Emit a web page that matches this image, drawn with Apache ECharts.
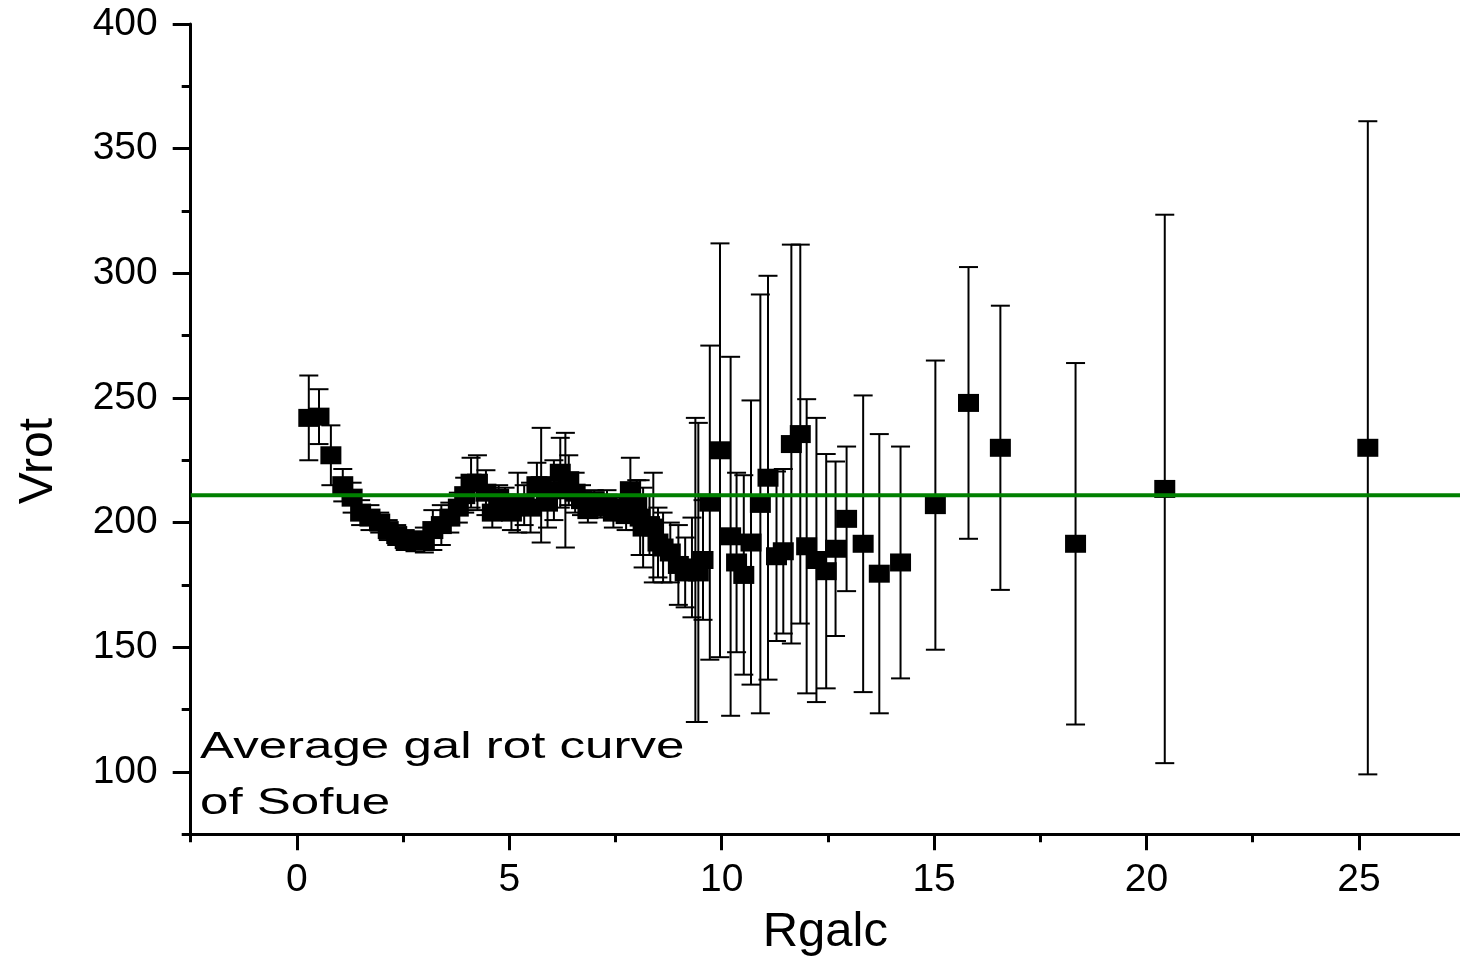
<!DOCTYPE html>
<html><head><meta charset="utf-8">
<script src="https://cdn.jsdelivr.net/npm/echarts@6/dist/echarts.min.js"></script>
<style>html,body{margin:0;padding:0;background:#fff}#c{width:1460px;height:965px}</style>
</head><body><div id="c"></div>
<script>
const rgalc = [0.28,0.52,0.80,1.08,1.30,1.50,1.72,1.95,2.15,2.35,2.55,2.78,3.00,3.20,3.40,3.60,3.80,3.95,4.10,4.25,
  4.45,4.60,4.75,4.90,5.05,5.20,5.35,5.50,5.65,5.75,5.90,6.05,6.20,6.32,6.40,6.55,6.70,6.85,7.00,7.15,
  7.30,7.45,7.60,7.75,7.85,8.00,8.08,8.15,8.30,8.39,8.50,8.62,8.79,8.98,9.14,9.30,9.38,9.45,9.56,9.72,
  9.96,10.21,10.35,10.52,10.69,10.91,11.09,11.29,11.45,11.64,11.85,12.00,12.23,12.46,12.68,12.94,13.33,13.71,14.21,
  15.03,15.81,16.56,18.33,20.43,25.21];
const vrot = [242,242.5,227,215,210,204,202,200,197,195,193,192.5,193,197,199,202,206,211,216,216,
  212,204,210,208,204,208,207,206,215,215,208,213,220,213,217,212,209,205,209,206,
  208,204,206,203,213,207,202,198,199,198,192,190,188,183,180,182,181,180,185,208,
  229,194.5,184,179,192,207.5,218,186.5,188.5,231.5,235.5,190.5,185,180.5,189.5,201.5,191.5,179.5,184,
  207,248,230,191.5,213.5,230];
const verr = [17,11,12,6.5,6,5,5,4,4,4,4,4,5,8,8,6,6,7,10,11,
  9,6,5,6,7,12,8,10,9,23,10,12,14,23,10,8,6,5,4,4,
  5,6,5,6,13,10,15,16,12,22,14,14,12,16,14,20,61,60,24,63,
  83,72,36,40,57,84,81,34,33,80,76,59,57,47,35,29,59.5,56,46.5,
  58,54.5,57,72.5,110,131];
const meanV = 211;
const xMajor = [0,5,10,15,20,25];
const xMinor = [-2.5,2.5,7.5,12.5,17.5,22.5];
const yMajor = [100,150,200,250,300,350,400];
const yMinor = [75,125,175,225,275,325,375];

const pts = rgalc.map((x,i)=>[x, vrot[i]]);
const errs = rgalc.map((x,i)=>[x, vrot[i]-verr[i], vrot[i]+verr[i]]);
const FONT = '"Liberation Sans", Arial, sans-serif';
const chart = echarts.init(document.getElementById('c'), null, {renderer:'canvas'});
const axLine = {show:true, onZero:false, lineStyle:{color:'#000', width:3}};
chart.setOption({
  animation:false,
  backgroundColor:'#fff',
  grid:{left:190.7, right:0, top:24, bottom:130.8, containLabel:false},
  xAxis:[
    {type:'value', min:-2.5, max:27.38, axisLine:axLine, splitLine:{show:false},
     axisTick:{show:true, inside:false, length:16, lineStyle:{color:'#000', width:3}, customValues:xMajor},
     axisLabel:{show:true, customValues:xMajor, fontFamily:FONT, fontSize:39, color:'#000', margin:27},
     name:'Rgalc', nameLocation:'middle', nameGap:74, nameTextStyle:{fontFamily:FONT, fontSize:49, color:'#000'}},
    {type:'value', min:-2.5, max:27.38, position:'bottom', axisLine:{show:false, onZero:false}, splitLine:{show:false},
     axisTick:{show:true, inside:false, length:8, lineStyle:{color:'#000', width:3}, customValues:xMinor},
     axisLabel:{show:false}}
  ],
  yAxis:[
    {type:'value', min:75, max:400, axisLine:axLine, splitLine:{show:false},
     axisTick:{show:true, inside:false, length:18, lineStyle:{color:'#000', width:3}, customValues:yMajor},
     axisLabel:{show:true, customValues:yMajor, fontFamily:FONT, fontSize:39, color:'#000', margin:33},
     name:'Vrot', nameLocation:'middle', nameGap:128,
     nameTextStyle:{fontFamily:FONT, fontSize:48, color:'#000', padding:[0,64,0,0]}},
    {type:'value', min:75, max:400, position:'left', axisLine:{show:false, onZero:false}, splitLine:{show:false},
     axisTick:{show:true, inside:false, length:9, lineStyle:{color:'#000', width:3}, customValues:yMinor},
     axisLabel:{show:false}}
  ],
  graphic:[{type:'text', x:200, y:720, scaleX:1.38, z:50,
    style:{text:'Average gal rot curve\nof Sofue', fontFamily:FONT, fontSize:37, lineHeight:56, fill:'#000'}}],
  series:[
    {type:'custom', z:2, xAxisIndex:0, yAxisIndex:0, data:errs, encode:{x:0, y:[1,2]},
     renderItem:function(params, api){
       const x = api.value(0), lo = api.value(1), hi = api.value(2);
       const t = api.coord([x, hi]), b = api.coord([x, lo]);
       const hw = 9.5, st = {stroke:'#000', lineWidth:2};
       return {type:'group', children:[
         {type:'line', shape:{x1:t[0], y1:t[1], x2:b[0], y2:b[1]}, style:st},
         {type:'line', shape:{x1:t[0]-hw, y1:t[1], x2:t[0]+hw, y2:t[1]}, style:st},
         {type:'line', shape:{x1:b[0]-hw, y1:b[1], x2:b[0]+hw, y2:b[1]}, style:st}
       ]};
     }},
    {type:'scatter', z:3, data:pts, symbol:'rect', symbolSize:[21,18], itemStyle:{color:'#000', opacity:1}},
    {type:'line', z:10, data:[[-2.5, meanV],[27.38, meanV]], symbol:'none',
     lineStyle:{color:'#008000', width:4}}
  ]
});
</script></body></html>
